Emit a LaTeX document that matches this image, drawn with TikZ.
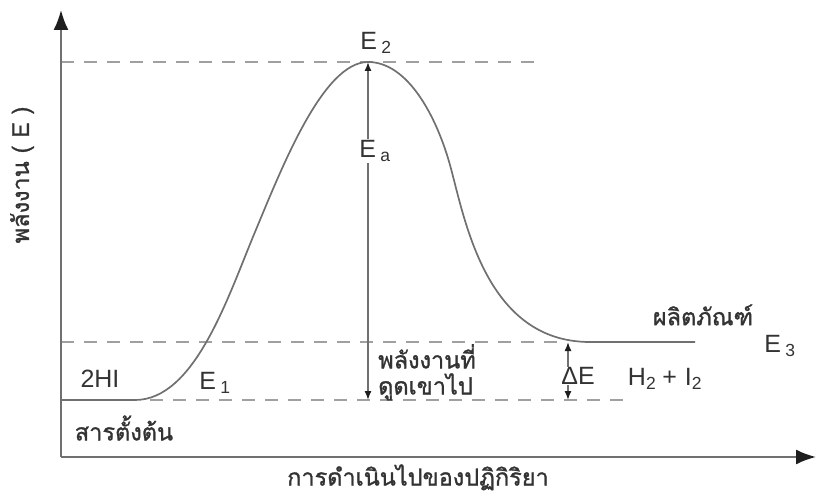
\documentclass[tikz,border=0pt]{standalone}
\usepackage{fontspec}
\setmainfont{Liberation Sans}
\newfontfamily\thaifont[Script=Thai,FakeBold=1.2]{Loma}
\usetikzlibrary{arrows.meta}
\definecolor{txt}{HTML}{333333}
\definecolor{ln}{HTML}{707070}
\definecolor{dsh}{HTML}{A0A0A0}
\definecolor{tip}{HTML}{1E1E1E}
\tikzset{
  axis/.style={ln, line width=2pt, -{Latex[length=20pt,width=15pt,color=tip]}},
  curve/.style={ln, line width=1.7pt},
  guide/.style={dsh, line width=1.6pt, dash pattern=on 13pt off 10pt},
  dim/.style={ln, line width=1.4pt, {Latex[length=9pt,width=7pt,color=tip]}-{Latex[length=9pt,width=7pt,color=tip]}},
  lbl/.style={text=txt, font=\fontsize{25}{27}\selectfont, inner sep=1pt},
  thlbl/.style={text=txt, font=\thaifont\fontsize{23.5}{26}\selectfont, inner sep=1pt},
}
\begin{document}
\begin{tikzpicture}[x=1pt,y=-1pt]
\useasboundingbox (0,0) rectangle (817,497);
% named points
\coordinate (origin) at (61,457);
\coordinate (ytop) at (61,10);
\coordinate (xend) at (816,457);
\coordinate (peak) at (368,62);
\coordinate (base) at (368,400);
\coordinate (r0) at (61,400);
\coordinate (r1) at (135,400);
\coordinate (rinf) at (255,232);
\coordinate (finf) at (450,165);
\coordinate (p0) at (590,342);
\coordinate (p1) at (695,342);
\coordinate (top0) at (61,62);
\coordinate (top1) at (537,62);
\coordinate (mid0) at (61,342);
\coordinate (mid1) at (565,342);
\coordinate (low0) at (150,400);
\coordinate (low1) at (625,400);
\coordinate (dEtop) at (568,342);
\coordinate (dEbot) at (568,400);
% guides
\draw[guide] (top0) -- (top1);
\draw[guide] (mid0) -- (mid1);
\draw[guide] (low0) -- (low1);
% axes
\draw[axis] (origin) -- (ytop);
\draw[axis] (origin) -- (xend);
% reaction curve
\draw[curve] (r0) -- (r1)
  .. controls (195,400) and (228,296.6) .. (rinf)
  .. controls (282,167.4) and (323,62) .. (peak)
  .. controls (408,62) and (436.6,116.9) .. (finf)
  .. controls (464.7,218) and (485,342) .. (p0)
  -- (p1);
% dimension arrows
\draw[dim] (base) -- (peak);
\draw[dim] (dEbot) -- (dEtop);
% labels
\node[lbl] (E2) at (376,43) {E\,\textsubscript{2}};
\node[lbl, fill=white] (Ea) at (375,151) {E\,\textsubscript{a}};
\node[lbl] (E1) at (215,383) {E\,\textsubscript{1}};
\node[lbl] (hi) at (100,379) {2HI};
\node[lbl, fill=white, inner sep=0.5pt] (dE) at (578,376) {ΔE};
\node[lbl] (prod) at (665,379) {H\textsubscript{2}\hspace{6pt}+\hspace{8pt}I\textsubscript{2}};
\node[lbl] (E3) at (780,346) {E\,\textsubscript{3}};
\node[thlbl] (react) at (124,428) {สารตั้งต้น};
\node[thlbl] (prodth) at (703,315) {ผลิตภัณฑ์};
\node[thlbl, align=left, anchor=north west] (absorb) at (377,343) {พลังงานที่\\ดูดเขาไป};
\node[thlbl, anchor=base] (xlab) at (418,485.5) {การดำเนินไปของปฏิกิริยา};
\node[thlbl, rotate=90] (ylab) at (22,175) {พลังงาน ( E )};
\end{tikzpicture}
\end{document}
